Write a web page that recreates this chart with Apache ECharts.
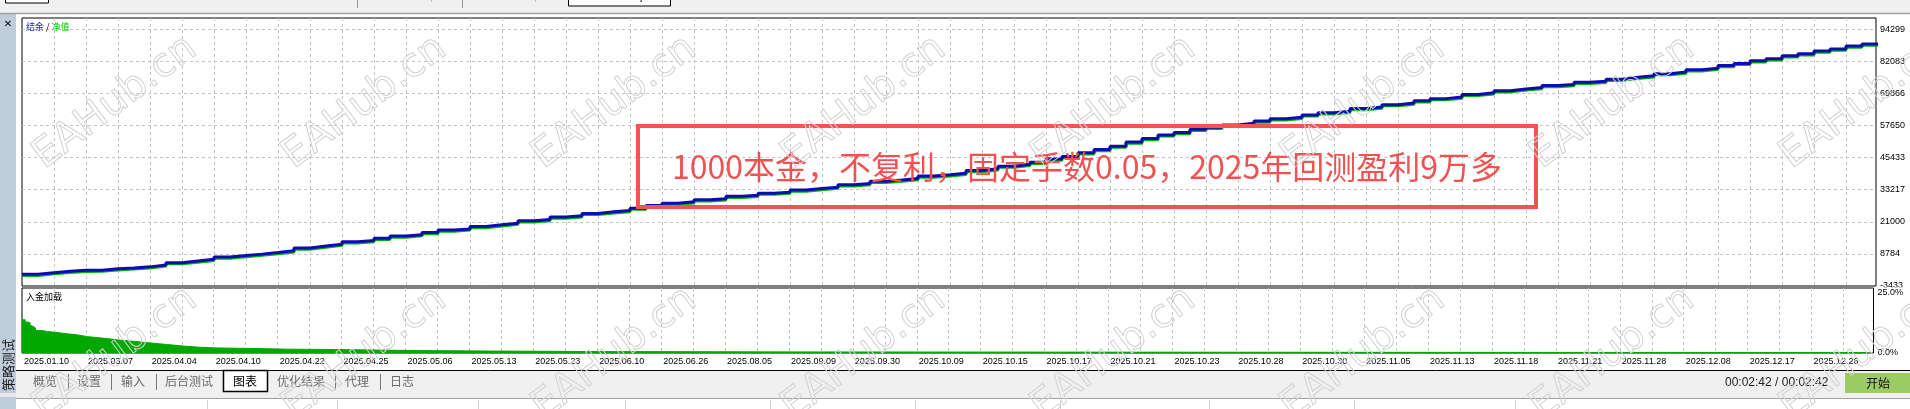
<!DOCTYPE html>
<html><head><meta charset="utf-8">
<script src="https://cdn.jsdelivr.net/npm/echarts@6/dist/echarts.min.js"></script>
<style>html,body{margin:0;padding:0;background:#fff;}#c{width:1910px;height:409px;}</style>
</head><body><div id="c"></div><script>
// ---- data ----
const xLabels = ['2025.01.10','2025.03.07','2025.04.04','2025.04.10','2025.04.22','2025.04.25','2025.05.06','2025.05.13','2025.05.23','2025.06.10','2025.06.26','2025.08.05','2025.09.09','2025.09.30','2025.10.09','2025.10.15','2025.10.17','2025.10.21','2025.10.23','2025.10.28','2025.10.30','2025.11.05','2025.11.13','2025.11.18','2025.11.21','2025.11.28','2025.12.08','2025.12.17','2025.12.26'];
const yMin = -3433;
const yStep = 12216.5;
const balance = [1000,1650,2150,2550,2600,3100,3450,3850,4600,5450,6100,6750,7600,8150,8700,9300,9950,11050,11800,12500,13400,13900,14700,15600,16100,16900,17900,18300,19200,19900,20500,21400,21900,22800,23300,24200,24800,25300,26200,27200,28100,28600,29400,29800,30700,31100,31900,32300,33100,33700,34200,35100,35600,36400,36900,37500,38400,38900,39500,40500,41200,42200,42900,43700,44900,45900,47300,48500,49800,51400,52700,54100,55000,56200,57000,57900,58500,59400,60200,60800,61700,62500,63100,64100,64700,65600,66200,67100,67900,68500,69500,70100,70900,71600,72100,72900,73300,74100,74500,75300,76000,76600,77400,78000,78900,79500,80500,81300,82300,83100,84200,85000,86000,86800,87900,88700,89300];
const equity = [600,1200,1700,2100,2150,2650,3000,3400,4150,5000,5650,6300,7150,7700,8250,8850,9500,10600,11350,12050,12950,13450,14250,15150,15650,16450,17450,17850,18750,19450,20050,20950,21450,22350,22850,23750,24350,24850,25750,26750,27650,28150,28950,29350,30250,30650,31450,31850,32650,33250,33750,34650,35150,35950,36450,37050,37950,38450,39050,40050,40750,41750,42450,43250,44450,45450,46850,48050,49350,50950,52250,53650,54550,55750,56550,57450,58050,58950,59750,60350,61250,62050,62650,63650,64250,65150,65750,66650,67450,68050,69050,69650,70450,71150,71650,72450,72850,73650,74050,74850,75550,76150,76950,77550,78450,79050,80050,80850,81850,82650,83750,84550,85550,86350,87450,88250,88850];
const loadIdx = [0,0.2,0.3,0.5,0.6,0.8,0.9,1.25,1.6,2.2,2.8,3.4,4.1,4.7,5.3,5.9,6.9,8,9.1,10.1,11.1,12.2,14.3,16.6,20.3,24.9,29.4,36.1,48.6,67.4,92.4,115.6];
const loadPct = [13.8,12.9,12.7,11.5,10.7,10.0,9.3,8.9,8.5,8.0,7.6,6.8,6.4,6.0,5.5,4.9,4.2,3.5,2.9,2.4,2.1,1.9,1.6,1.4,1.0,0.8,0.6,0.45,0.35,0.25,0.2,0.15];
const noteText = '1000本金，不复利，固定手数0.05，2025年回测盈利9万多';
const bottomTabs = [['概览',33],['设置',77],['输入',121],['后台测试',165],['图表',233],['优化结果',277],['代理',345],['日志',390]];
const tabSeps = [68,111,156,335,380];

// ---- chart ----
const chart = echarts.init(document.getElementById('c'), null, {renderer:'canvas'});
const FONT = '"Liberation Sans", Arial, sans-serif';
const CJK = '"Noto Sans CJK SC", sans-serif';
const dash = {type:[3,3], color:'#c4c4c4', width:1};
const XMAX = 1854/16;

const g = [];
// top bar
g.push({type:'rect', z:1, shape:{x:0,y:0,width:1910,height:13}, style:{fill:'#f0f0f0'}});
g.push({type:'line', z:2, shape:{x1:0,y1:13.5,x2:1910,y2:13.5}, style:{stroke:'#a0a0a0', lineWidth:1.5}});
g.push({type:'rect', z:2, shape:{x:5.5,y:-2,width:43,height:5}, style:{fill:'#fff', stroke:'#000', lineWidth:1}});
g.push({type:'line', z:2, shape:{x1:357.5,y1:0,x2:357.5,y2:8}, style:{stroke:'#999', lineWidth:1}});
g.push({type:'line', z:2, shape:{x1:462.5,y1:0,x2:462.5,y2:8}, style:{stroke:'#999', lineWidth:1}});
g.push({type:'rect', z:2, shape:{x:568.5,y:-2,width:102,height:8}, style:{fill:'#fff', stroke:'#000', lineWidth:1}});
g.push({type:'text', z:3, x:370, y:-3, style:{text:'XAUUSDm,H1', font:'12px '+FONT, fill:'#888', verticalAlign:'middle'}});
g.push({type:'text', z:3, x:474, y:-3, style:{text:'XAUUSDm,M5', font:'12px '+FONT, fill:'#888', verticalAlign:'middle'}});
g.push({type:'text', z:3, x:578, y:-3, style:{text:'XAUUSDm,M1', font:'bold 12px '+FONT, fill:'#000', verticalAlign:'middle'}});
// left sidebar
g.push({type:'rect', z:1, shape:{x:0,y:14,width:16,height:395}, style:{fill:'#bfcddb'}});
g.push({type:'rect', z:1, shape:{x:0,y:393,width:16,height:4}, style:{fill:'#e8e8e8'}});
g.push({type:'text', z:3, x:8, y:24, style:{text:'✕', font:'bold 10px "DejaVu Sans"', fill:'#000', align:'center', verticalAlign:'middle'}});
g.push({type:'text', z:3, x:8, y:365, rotation:Math.PI/2, style:{text:'策略测试', font:'13px '+CJK, fill:'#1a1a1a', align:'center', verticalAlign:'middle'}});
// panel labels
g.push({type:'text', z:5, x:26, y:27, style:{text:'{a|结余} {b|/} {c|净值}', font:'9px '+CJK, verticalAlign:'middle', rich:{a:{fill:'#2020e0', font:'9px '+CJK}, b:{fill:'#000', font:'9px '+CJK}, c:{fill:'#00c000', font:'9px '+CJK}}}});
g.push({type:'text', z:5, x:26, y:297, style:{text:'入金加载', font:'9px '+CJK, fill:'#000', verticalAlign:'middle'}});
// bottom tab bar
g.push({type:'rect', z:1, shape:{x:16,y:370,width:1894,height:28}, style:{fill:'#f0f0f0'}});
g.push({type:'line', z:2, shape:{x1:16,y1:370.5,x2:1910,y2:370.5}, style:{stroke:'#000', lineWidth:1}});
g.push({type:'line', z:2, shape:{x1:16,y1:398.5,x2:1910,y2:398.5}, style:{stroke:'#a0a0a0', lineWidth:1}});
g.push({type:'rect', z:2, shape:{x:223.5,y:370.5,width:44,height:21}, style:{fill:'#fff', stroke:'#000', lineWidth:1.5}});
bottomTabs.forEach(function(t){
  g.push({type:'text', z:3, x:t[1], y:381, style:{text:t[0], font:'12px '+CJK, fill: t[0]==='图表' ? '#000' : '#6a6a6a', verticalAlign:'middle'}});
});
tabSeps.forEach(function(x){
  g.push({type:'line', z:2, shape:{x1:x+0.5,y1:374,x2:x+0.5,y2:390}, style:{stroke:'#777', lineWidth:1}});
});
[207,337,478,625,770,915,1060,1209,1354,1515].forEach(function(x){
  g.push({type:'line', z:2, shape:{x1:x+0.5,y1:400,x2:x+0.5,y2:409}, style:{stroke:'#d0d0d0', lineWidth:1}});
});
g.push({type:'text', z:3, x:1725, y:383, style:{text:'00:02:42 / 00:02:42', font:'12px '+FONT, fill:'#222', verticalAlign:'middle'}});
g.push({type:'rect', z:2, shape:{x:1845,y:373,width:65,height:20}, style:{fill:'#9ccb64'}});
g.push({type:'text', z:3, x:1878, y:383, style:{text:'开始', font:'12px '+CJK, fill:'#111', align:'center', verticalAlign:'middle'}});
// annotation box
g.push({type:'rect', z:50, shape:{x:638,y:126,width:898,height:81}, style:{fill:'none', stroke:'#f55353', lineWidth:4}});
g.push({type:'text', z:51, x:1087, y:167, style:{text:noteText, font:'32px '+CJK, fill:'#f05252', align:'center', verticalAlign:'middle'}});
// watermarks
for (let k=0;k<8;k++){
  [177,428].forEach(function(yy){
    g.push({type:'text', z:60, x:50+249.6*k, y:yy, rotation:37*Math.PI/180, silent:true,
      style:{text:'EAHub.cn', font:'40px "DejaVu Sans", sans-serif', fill:'rgba(255,255,255,0)', stroke:'#d2d2d2', lineWidth:1, verticalAlign:'bottom', align:'left'}});
  });
}

const option = {
  animation:false,
  backgroundColor:'#fff',
  grid:[
    {left:22, top:18, width:1854, height:268, show:true, borderColor:'#000', borderWidth:1, backgroundColor:'#fff'},
    {left:22, top:288, width:1854, height:65, show:true, borderColor:'#000', borderWidth:1, backgroundColor:'#fff'}
  ],
  xAxis:[
    {gridIndex:0, type:'value', min:0, max:XMAX, interval:2, axisLine:{show:false}, axisTick:{show:false}, axisLabel:{show:false},
     splitLine:{show:true, showMinLine:false, showMaxLine:false, lineStyle:dash}},
    {gridIndex:1, type:'value', min:0, max:XMAX, interval:2, axisLine:{show:false}, axisTick:{show:false},
     splitLine:{show:true, showMinLine:false, showMaxLine:false, lineStyle:dash},
     axisLabel:{show:true, align:'left', margin:4, padding:[0,0,0,2], fontSize:9, fontFamily:FONT, color:'#000',
       formatter:function(v){ return (Math.abs(v % 4) < 1e-6) ? (xLabels[Math.round(v/4)] || '') : ''; }}}
  ],
  yAxis:[
    {gridIndex:0, type:'value', position:'right', min:0, max:102030, interval:yStep, z:1,
     axisLine:{show:false}, axisTick:{show:false}, splitLine:{show:true, showMinLine:false, showMaxLine:false, lineStyle:dash},
     axisLabel:{margin:4, fontSize:9, fontFamily:FONT, color:'#000', formatter:function(v){ return v > 100000 ? '' : String(Math.round(v + yMin)); }}},
    {gridIndex:1, type:'value', position:'right', min:0, max:27, interval:25, z:5,
     axisLine:{show:false}, axisTick:{show:false}, splitLine:{show:false},
     axisLabel:{margin:4, fontSize:9, fontFamily:FONT, color:'#000', backgroundColor:'#fff', padding:[2,4,0,0], formatter:function(v){ return v > 26 ? '' : v.toFixed(1) + '%'; }}}
  ],
  graphic: g,
  series:[
    {name:'净值', type:'line', xAxisIndex:0, yAxisIndex:0, step:'end', symbol:'none', z:2,
     data: equity.map(function(v,i){ return [i, v - yMin]; }), lineStyle:{color:'#00b400', width:3}},
    {name:'结余', type:'line', xAxisIndex:0, yAxisIndex:0, step:'end', symbol:'none', z:3,
     data: balance.map(function(v,i){ return [i, v - yMin]; }), lineStyle:{color:'#0c0cb0', width:3}},
    {name:'入金加载', type:'line', xAxisIndex:1, yAxisIndex:1, step:'end', symbol:'none', z:2,
     data: loadIdx.map(function(x,i){ return [x, loadPct[i]]; }), lineStyle:{color:'#00a800', width:1}, areaStyle:{color:'#00a800', opacity:1}}
  ]
};
chart.setOption(option);
</script></body></html>
